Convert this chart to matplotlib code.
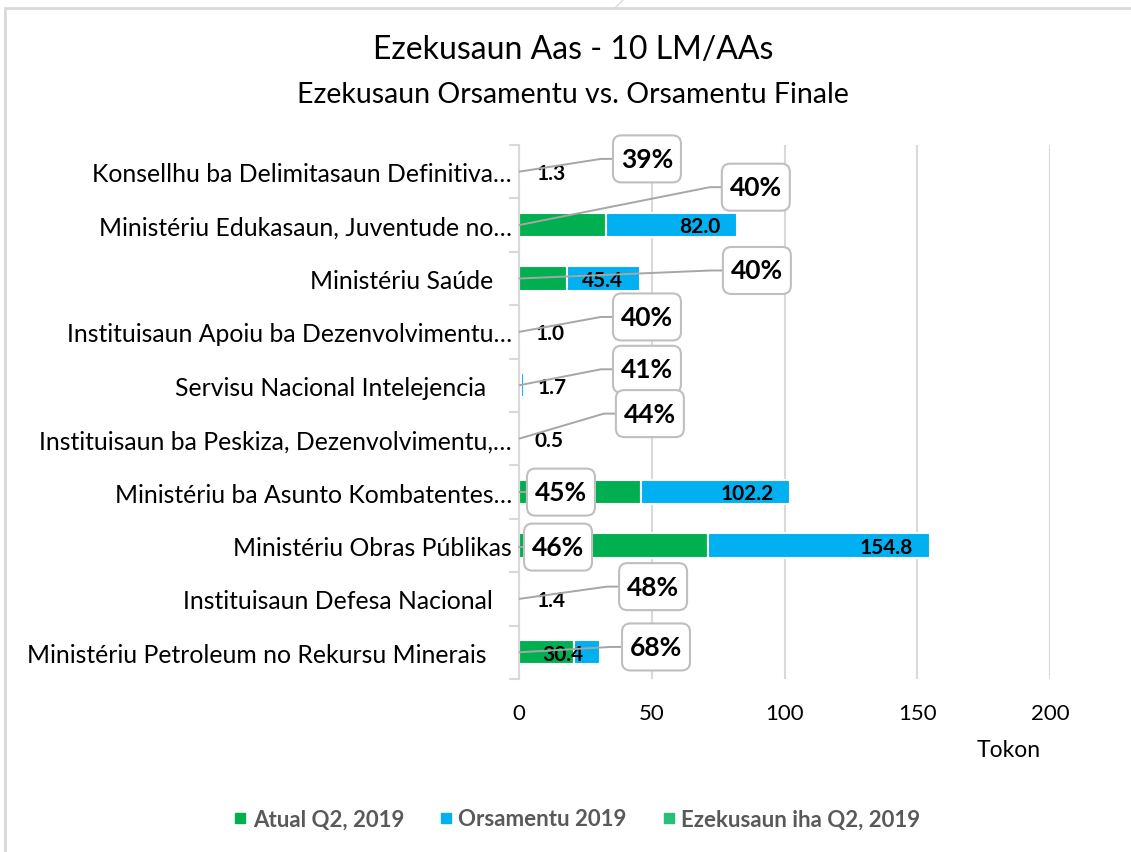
import matplotlib.pyplot as plt
from matplotlib.lines import Line2D
from matplotlib.patches import Rectangle, FancyBboxPatch

# ── Data ───────────────────────────────────────────
categories = [
    'Konsellhu ba Delimitasaun Definitiva…',
    'Ministériu Edukasaun, Juventude no…',
    'Ministériu Saúde   ',
    'Instituisaun Apoiu ba Dezenvolvimentu…',
    'Servisu Nacional Intelejencia    ',
    'Instituisaun ba Peskiza, Dezenvolvimentu,…',
    'Ministériu ba Asunto Kombatentes…',
    'Ministériu Obras Públikas',
    'Instituisaun Defesa Nacional   ',
    'Ministériu Petroleum no Rekursu Minerais    ',
]
budget = [1.3, 82.0, 45.4, 1.0, 1.7, 0.5, 102.2, 154.8, 1.4, 30.4]   # Orsamentu 2019
actual = [0.5, 32.8, 18.2, 0.4, 0.7, 0.2, 46.0, 71.2, 0.7, 20.7]     # Atual Q2, 2019
exec_pct = [39, 40, 40, 40, 41, 44, 45, 46, 48, 68]                  # Ezekusaun iha Q2

# callout box placement (x in Tokon, y shift in rows, up = positive)
callout_x = [48.2, 89.2, 89.6, 48.2, 48.2, 49.3, 15.8, 14.7, 50.5, 51.6]
callout_dy = [0.24, 0.71, 0.15, 0.28, 0.30, 0.47, 0.0, -0.03, 0.23, 0.10]

GREEN = '#00B050'
BLUE = '#00B0F0'
LGREEN = '#27C07A'
GRID = '#D9D9D9'

plt.rcParams['font.family'] = ['Lato', 'DejaVu Sans']

fig = plt.figure(figsize=(11.31, 8.53), dpi=100)
ax = fig.add_axes([519 / 1131, 1 - 680 / 853, 531 / 1131, 534 / 853])

ypos = list(range(len(categories)))
rest = [b - a for a, b in zip(actual, budget)]

ax.barh(ypos, actual, height=0.45, color=GREEN, edgecolor='white', linewidth=1.5, zorder=2)
ax.barh(ypos, rest, left=actual, height=0.45, color=BLUE, edgecolor='white', linewidth=1.5, zorder=2)

# budget labels (inside end, or just outside for tiny bars)
for y, b in zip(ypos, budget):
    if b > 10:
        ax.annotate(f'{b:.1f}', (b, y), xytext=(-12, -1), textcoords='offset points',
                    ha='right', va='center', fontsize=15, fontweight='bold', zorder=3)
    else:
        ax.annotate(f'{b:.1f}', (b, y), xytext=(10, -1), textcoords='offset points',
                    ha='left', va='center', fontsize=15, fontweight='bold', zorder=3)

ax.set_xlim(0, 200)
ax.set_ylim(len(categories) - 0.5, -0.5)

# execution % callouts
px_x = 531 / 200          # pixels per Tokon
px_y = 534 / len(categories)  # pixels per row
box_w = 68 / px_x
box_h = 47 / px_y
for y, p, cx, dy in zip(ypos, exec_pct, callout_x, callout_dy):
    by = y - dy
    left = cx - box_w / 2
    ax.plot([0, max(left - 4.5, 0), left], [y, by, by], color='#A6A6A6', lw=1.4, zorder=3,
            solid_capstyle='butt', clip_on=False)
    box = FancyBboxPatch((left, by - box_h / 2), box_w, box_h,
                         boxstyle='round,pad=0,rounding_size=3.2', mutation_aspect=px_x / px_y,
                         fc='white', ec='#BFBFBF', lw=1.5, zorder=4, clip_on=False)
    ax.add_patch(box)
    ax.text(cx, by, f'{p}%', ha='center', va='center', fontsize=19, fontweight='bold', zorder=5)

ax.set_xticks([0, 50, 100, 150, 200])
ax.tick_params(axis='x', length=0, labelsize=16, pad=17)
ax.set_yticks(ypos)
ax.set_yticklabels(categories, fontsize=17.8)
ax.set_yticks([i + 0.5 for i in range(-1, len(categories))], minor=True)
ax.tick_params(axis='y', which='major', length=0, pad=5)
ax.tick_params(axis='y', which='minor', length=7, color=GRID, width=1.5)
ax.xaxis.grid(True, color=GRID, lw=1.5, zorder=0)
ax.set_axisbelow(True)
for s in ['top', 'right', 'bottom']:
    ax.spines[s].set_visible(False)
ax.spines['left'].set_color(GRID)
ax.spines['left'].set_linewidth(1.5)

# titles
fig.text(573 / 1131, 1 - 50 / 853, 'Ezekusaun Aas - 10 LM/AAs', ha='center', va='center', fontsize=23)
fig.text(573 / 1131, 1 - 95 / 853, 'Ezekusaun Orsamentu vs. Orsamentu Finale', ha='center', va='center', fontsize=20.5)
fig.text(1009 / 1131, 1 - 751 / 853, 'Tokon', ha='center', va='center', fontsize=16.5)

# legend
handles = [
    Line2D([], [], marker='s', ls='', color=GREEN, markersize=7),
    Line2D([], [], marker='s', ls='', color=BLUE, markersize=7),
    Line2D([], [], marker='s', ls='', color=LGREEN, markersize=7),
]
leg = fig.legend(handles, ['Atual Q2, 2019', 'Orsamentu 2019', 'Ezekusaun iha Q2, 2019'],
                 loc='center', bbox_to_anchor=(576 / 1131, 1 - 820 / 853), ncol=3, frameon=False,
                 handletextpad=0.15, columnspacing=1.5, handlelength=0.8,
                 prop={'size': 16, 'weight': 'bold'})
for t in leg.get_texts():
    t.set_color('#595959')

# chart frame
fig.patches.append(Rectangle((5 / 1131, -0.05), 1.1, 1 - 9 / 853 + 0.05, transform=fig.transFigure,
                             fill=False, ec=GRID, lw=2))
fig.lines.append(Line2D([615 / 1131, 624 / 1131], [1 - 9 / 853, 1.0], transform=fig.transFigure,
                        color=GRID, lw=1))

fig.savefig('out.png', dpi=100)
